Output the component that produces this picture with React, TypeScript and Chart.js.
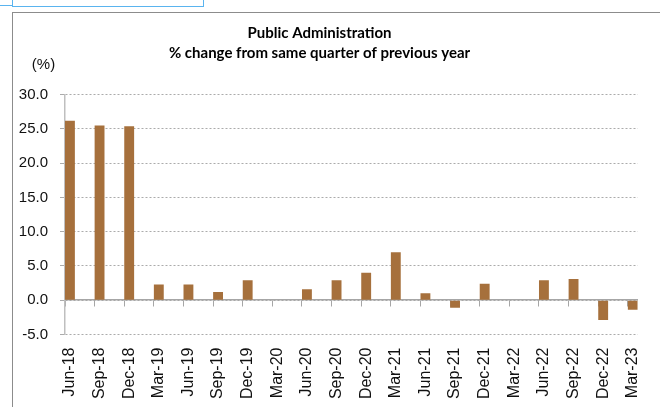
import React, { useEffect, useRef } from 'react';
import { Chart, registerables } from 'chart.js';

Chart.register(...registerables);

const titleLines = ['Public Administration', '% change from same quarter of previous year'];
const unitLabel = '(%)';

const categories = [
  'Jun-18', 'Sep-18', 'Dec-18', 'Mar-19', 'Jun-19', 'Sep-19', 'Dec-19', 'Mar-20',
  'Jun-20', 'Sep-20', 'Dec-20', 'Mar-21', 'Jun-21', 'Sep-21', 'Dec-21', 'Mar-22',
  'Jun-22', 'Sep-22', 'Dec-22', 'Mar-23',
];

const values = [
  26.2, 25.5, 25.4, 2.3, 2.3, 1.2, 2.9, 0,
  1.6, 2.9, 4.0, 7.0, 1.0, -1.1, 2.4, 0,
  2.9, 3.1, -2.9, -1.4,
];

const yMin = -5;
const yMax = 30;
const yStep = 5;

// quarterly observations on a monthly date axis
const MONTHS_PER_QUARTER = 3;

const BAR_COLOR = '#A6703C';
const TEXT_COLOR = '#111111';
const AXIS_COLOR = '#A6A6A6';
const GRID_COLOR = '#ABABAB';

export default function App() {
  const ref = useRef<HTMLCanvasElement>(null);

  useEffect(() => {
    const canvas = ref.current;
    if (!canvas) return;
    const monthOf = (i: number) => i * MONTHS_PER_QUARTER;
    const lastMonth = monthOf(categories.length - 1);
    const quarterTicks = () => categories.map((_, i) => ({ value: monthOf(i) }));

    const unitPlugin = {
      id: 'unitLabel',
      afterDraw(chart: any) {
        const { ctx, chartArea } = chart;
        ctx.save();
        ctx.font = '15px "Liberation Sans"';
        ctx.fillStyle = TEXT_COLOR;
        ctx.textAlign = 'center';
        ctx.textBaseline = 'middle';
        ctx.fillText(unitLabel, chartArea.left - 21.5, chartArea.top - 29.5);
        ctx.restore();
      },
    };

    const chart = new Chart(canvas, {
      type: 'bar',
      data: {
        datasets: [
          {
            data: values.map((v, i) => ({ x: monthOf(i), y: v })),
            backgroundColor: BAR_COLOR,
            borderWidth: 0,
            categoryPercentage: 1,
            barPercentage: 1 / MONTHS_PER_QUARTER,
            xAxisID: 'x',
            yAxisID: 'y',
          } as any,
        ],
      },
      options: {
        animation: false,
        responsive: false,
        maintainAspectRatio: false,
        layout: { padding: { left: 0, right: 0, top: 0, bottom: 0 } },
        plugins: {
          legend: { display: false },
          tooltip: { enabled: false },
          title: {
            display: true,
            text: titleLines,
            color: '#000000',
            font: { family: 'Lato', weight: 'bold', size: 15, lineHeight: 1.33 },
            padding: { top: 23, bottom: 31.7 },
          },
        },
        scales: {
          x: {
            type: 'linear',
            axis: 'x',
            position: 'bottom',
            offset: false,
            min: -0.5,
            max: lastMonth + 0.5,
            afterBuildTicks: (s: any) => {
              s.ticks = quarterTicks();
            },
            afterFit: (s: any) => {
              s.height = 72.5;
            },
            ticks: {
              autoSkip: false,
              minRotation: 90,
              maxRotation: 90,
              padding: 5,
              color: TEXT_COLOR,
              font: { family: 'Liberation Sans', size: 16 },
              callback: (v: any) => categories[Math.round(Number(v) / MONTHS_PER_QUARTER)],
            },
            grid: { display: false },
            border: { display: false },
          },
          x2: {
            type: 'linear',
            axis: 'x',
            position: { y: 0 },
            offset: false,
            min: 0,
            max: lastMonth + 1,
            afterBuildTicks: (s: any) => {
              s.ticks = quarterTicks();
            },
            ticks: { display: false },
            grid: {
              display: true,
              offset: false,
              drawOnChartArea: false,
              drawTicks: true,
              tickLength: 6,
              color: AXIS_COLOR,
              lineWidth: 1,
            },
            border: { display: true, color: AXIS_COLOR, width: 1.5 },
          },
          y: {
            type: 'linear',
            position: 'left',
            min: yMin,
            max: yMax,
            afterFit: (s: any) => {
              s.width = 83;
            },
            ticks: {
              stepSize: yStep,
              padding: 12,
              color: TEXT_COLOR,
              font: { family: 'Liberation Sans', size: 15 },
              callback: (v: any) => Number(v).toFixed(1),
            },
            grid: { color: GRID_COLOR, lineWidth: 1, tickLength: 5, drawTicks: true },
            border: { display: true, color: '#BFBFBF', width: 1.5, dash: [2, 2] },
          },
        },
      } as any,
      plugins: [unitPlugin],
    });

    return () => chart.destroy();
  }, []);

  return (
    <div
      style={{
        position: 'absolute',
        left: 0,
        top: 0,
        width: 660,
        height: 407,
        overflow: 'hidden',
        background: '#ffffff',
      }}
    >
      <div
        style={{
          position: 'absolute',
          left: 12,
          top: -10,
          width: 190,
          height: 15,
          border: '1px solid #5AB4EF',
        }}
      />
      <div style={{ position: 'absolute', left: 0, top: 5, width: 12, height: 1, background: '#5AB4EF' }} />
      <div
        style={{
          position: 'absolute',
          left: 12,
          top: 12,
          width: 800,
          height: 600,
          borderLeft: '1px solid #8C8C8C',
          borderTop: '1px solid #8C8C8C',
        }}
      />
      <canvas
        ref={ref}
        width={675}
        height={407}
        style={{ position: 'absolute', left: -18, top: 0, width: 675, height: 407 }}
      />
    </div>
  );
}
